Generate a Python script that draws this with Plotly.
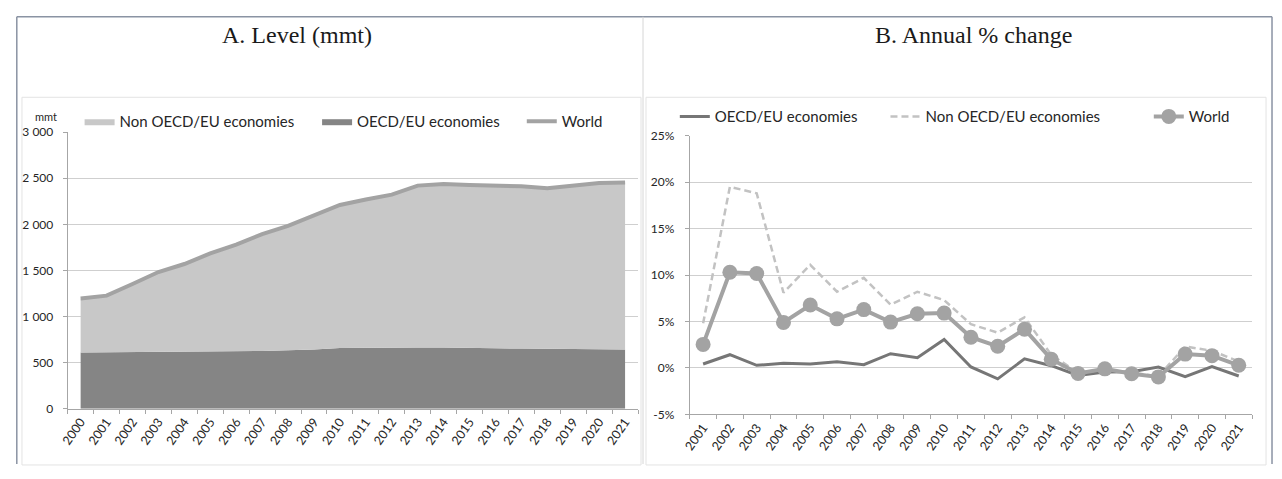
import plotly.graph_objects as go

# page = 8px body margin + figure + 8px margin = 1282 x 479
OFF = 8
W, H = 1282 - 2 * OFF, 479 - 2 * OFF

# ---------------- data ----------------
years_a = ["2000", "2001", "2002", "2003", "2004", "2005", "2006", "2007", "2008", "2009", "2010",
           "2011", "2012", "2013", "2014", "2015", "2016", "2017", "2018", "2019", "2020", "2021"]
oecd_level = [610, 612, 618, 620, 620, 622, 626, 628, 636, 642, 660,
              664, 660, 664, 664, 664, 656, 654, 654, 648, 646, 642]
non_oecd_level = [586, 615, 735, 863, 950, 1063, 1154, 1267, 1347, 1456, 1550,
                  1605, 1662, 1756, 1773, 1763, 1767, 1759, 1738, 1772, 1802, 1813]
world_level = [1196, 1227, 1353, 1483, 1570, 1685, 1780, 1895, 1983, 2098, 2210,
               2269, 2322, 2420, 2437, 2427, 2423, 2413, 2392, 2420, 2448, 2455]

years_b = ["2001", "2002", "2003", "2004", "2005", "2006", "2007", "2008", "2009", "2010",
           "2011", "2012", "2013", "2014", "2015", "2016", "2017", "2018", "2019", "2020", "2021"]
oecd_chg = [0.42, 1.42, 0.28, 0.49, 0.42, 0.66, 0.35, 1.53, 1.10, 3.06,
            0.10, -1.18, 0.97, 0.24, -0.80, -0.45, -0.40, 0.10, -0.94, 0.14, -0.87]
non_oecd_chg = [4.8, 19.5, 18.8, 8.1, 11.1, 8.2, 9.7, 6.8, 8.2, 7.3,
                4.7, 3.8, 5.45, 1.4, -0.5, -0.2, -0.5, -0.9, 2.3, 1.85, 0.7]
world_chg = [2.53, 10.30, 10.17, 4.90, 6.77, 5.28, 6.28, 4.93, 5.83, 5.90,
             3.30, 2.33, 4.17, 0.94, -0.59, -0.10, -0.63, -0.97, 1.49, 1.32, 0.28]

ticks_a = [0, 500, 1000, 1500, 2000, 2500, 3000]
ticks_b = [-5, 0, 5, 10, 15, 20, 25]

# ---------------- styling ----------------
FONT = "Lato"
C_LIGHT = "#c8c8c8"
C_DARK = "#858585"
C_WORLD = "#a3a3a3"
C_OECD_LINE = "#767676"
C_NON_DASH = "#c2c2c2"
C_GRID = "#cfcfcf"
C_AXIS = "#a6a6a6"
C_TEXT = "#262626"


def px(x):
    """page-pixel x -> paper fraction"""
    return (x - OFF) / W


def py(y):
    """page-pixel y (from top) -> paper fraction"""
    return 1 - (y - OFF) / H


fig = go.Figure()

# Panel A
fig.add_trace(go.Scatter(x=years_a, y=oecd_level, name="OECD/EU economies", stackgroup="a",
                         mode="lines", line=dict(width=0, color=C_DARK), fillcolor=C_DARK,
                         xaxis="x", yaxis="y", legend="legend2"))
fig.add_trace(go.Scatter(x=years_a, y=non_oecd_level, name="Non OECD/EU economies", stackgroup="a",
                         mode="lines", line=dict(width=0, color=C_LIGHT), fillcolor=C_LIGHT,
                         xaxis="x", yaxis="y", legend="legend"))
fig.add_trace(go.Scatter(x=years_a, y=world_level, name="World", mode="lines",
                         line=dict(width=4, color=C_WORLD),
                         xaxis="x", yaxis="y", legend="legend3"))

# Panel B
fig.add_trace(go.Scatter(x=years_b, y=oecd_chg, name="OECD/EU economies", mode="lines",
                         line=dict(width=3, color=C_OECD_LINE),
                         xaxis="x2", yaxis="y2", legend="legend4"))
fig.add_trace(go.Scatter(x=years_b, y=non_oecd_chg, name="Non OECD/EU economies", mode="lines",
                         line=dict(width=2.5, color=C_NON_DASH, dash="7px,4px"),
                         xaxis="x2", yaxis="y2", legend="legend5"))
fig.add_trace(go.Scatter(x=years_b, y=world_chg, name="World", mode="lines+markers",
                         line=dict(width=4, color=C_WORLD),
                         marker=dict(size=15, color=C_WORLD),
                         xaxis="x2", yaxis="y2", legend="legend6"))

ytickfont = dict(family=FONT, size=12, color=C_TEXT)
xtickfont = dict(family=FONT, size=12.5, color=C_TEXT)

axis_x_common = dict(type="category", tickson="boundaries", ticks="outside", ticklen=4,
                     tickcolor=C_AXIS, showline=True, linecolor=C_AXIS, linewidth=1,
                     showgrid=False, tickangle=-55, tickfont=xtickfont, zeroline=False,
                     fixedrange=True)
axis_y_common = dict(ticks="outside", ticklen=4, tickcolor=C_AXIS, showline=True,
                     linecolor=C_AXIS, linewidth=1, showgrid=True, gridcolor=C_GRID,
                     gridwidth=1, zeroline=False, tickfont=ytickfont, fixedrange=True)

legend_common = dict(orientation="h", xanchor="left", yanchor="middle",
                     bgcolor="rgba(0,0,0,0)", font=dict(family=FONT, size=15, color="#262626"),
                     borderwidth=0, itemclick=False, itemdoubleclick=False)

layout = dict(
    width=W, height=H, autosize=False,
    margin=dict(l=0, r=0, t=0, b=0),
    paper_bgcolor="white", plot_bgcolor="white",
    showlegend=True,
    xaxis=dict(axis_x_common, domain=[px(60), px(634)], range=[-0.5, len(years_a) - 0.5], anchor="y"),
    yaxis=dict(axis_y_common, domain=[py(414), py(128)], range=[0, 3000], ticklabelstandoff=7,
               tickvals=ticks_a, ticktext=[f"{v:,}".replace(",", " ") for v in ticks_a], anchor="x"),
    xaxis2=dict(axis_x_common, domain=[px(686), px(1252)], range=[-0.5, len(years_b) - 0.5], anchor="y2"),
    yaxis2=dict(axis_y_common, domain=[py(419.7), py(131.7)], range=[-5, 25], ticklabelstandoff=8,
                tickvals=ticks_b, ticktext=[f"{v}%" for v in ticks_b], anchor="x2"),
    legend=dict(legend_common, x=px(72), y=py(117)),
    legend2=dict(legend_common, x=px(311), y=py(117)),
    legend3=dict(legend_common, x=px(517), y=py(117)),
    legend4=dict(legend_common, x=px(671), y=py(112)),
    legend5=dict(legend_common, x=px(883), y=py(112)),
    legend6=dict(legend_common, x=px(1148), y=py(112)),
    annotations=[
        dict(text="A. Level (mmt)", x=px(291), y=py(28), xref="paper", yref="paper",
             showarrow=False, xanchor="center", yanchor="middle",
             font=dict(family="Liberation Serif", size=24, color="#1a1a1a")),
        dict(text="B. Annual % change", x=px(972), y=py(28), xref="paper", yref="paper",
             showarrow=False, xanchor="center", yanchor="middle",
             font=dict(family="Liberation Serif", size=24, color="#1a1a1a")),
        dict(text="mmt", x=px(38), y=py(112), xref="paper", yref="paper",
             showarrow=False, xanchor="center", yanchor="middle",
             font=dict(family=FONT, size=11, color=C_TEXT)),
    ],
    shapes=[
        # chart-area boxes
        dict(type="rect", xref="paper", yref="paper", x0=px(14), x1=px(637), y0=py(472), y1=py(92),
             line=dict(color="#e3e3e3", width=1), layer="below"),
        dict(type="rect", xref="paper", yref="paper", x0=px(642), x1=px(1266), y0=py(472), y1=py(92),
             line=dict(color="#e3e3e3", width=1), layer="below"),
        # outer frame
        dict(type="line", xref="paper", yref="paper", x0=px(8.8), x1=px(1272), y0=py(8.8), y1=py(8.8),
             line=dict(color="#8a93a3", width=1.5)),
        dict(type="line", xref="paper", yref="paper", x0=px(8.8), x1=px(8.8), y0=py(8.8), y1=0,
             line=dict(color="#8a93a3", width=1.5)),
        dict(type="line", xref="paper", yref="paper", x0=px(1272), x1=px(1272), y0=py(8.8), y1=0,
             line=dict(color="#8a93a3", width=1.5)),
        dict(type="line", xref="paper", yref="paper", x0=px(639), x1=px(639), y0=py(8.8), y1=0,
             line=dict(color="#d6d6d6", width=1)),
    ],
)

fig.update_layout(layout)
fig.write_html("out.html", config={"displayModeBar": False})
